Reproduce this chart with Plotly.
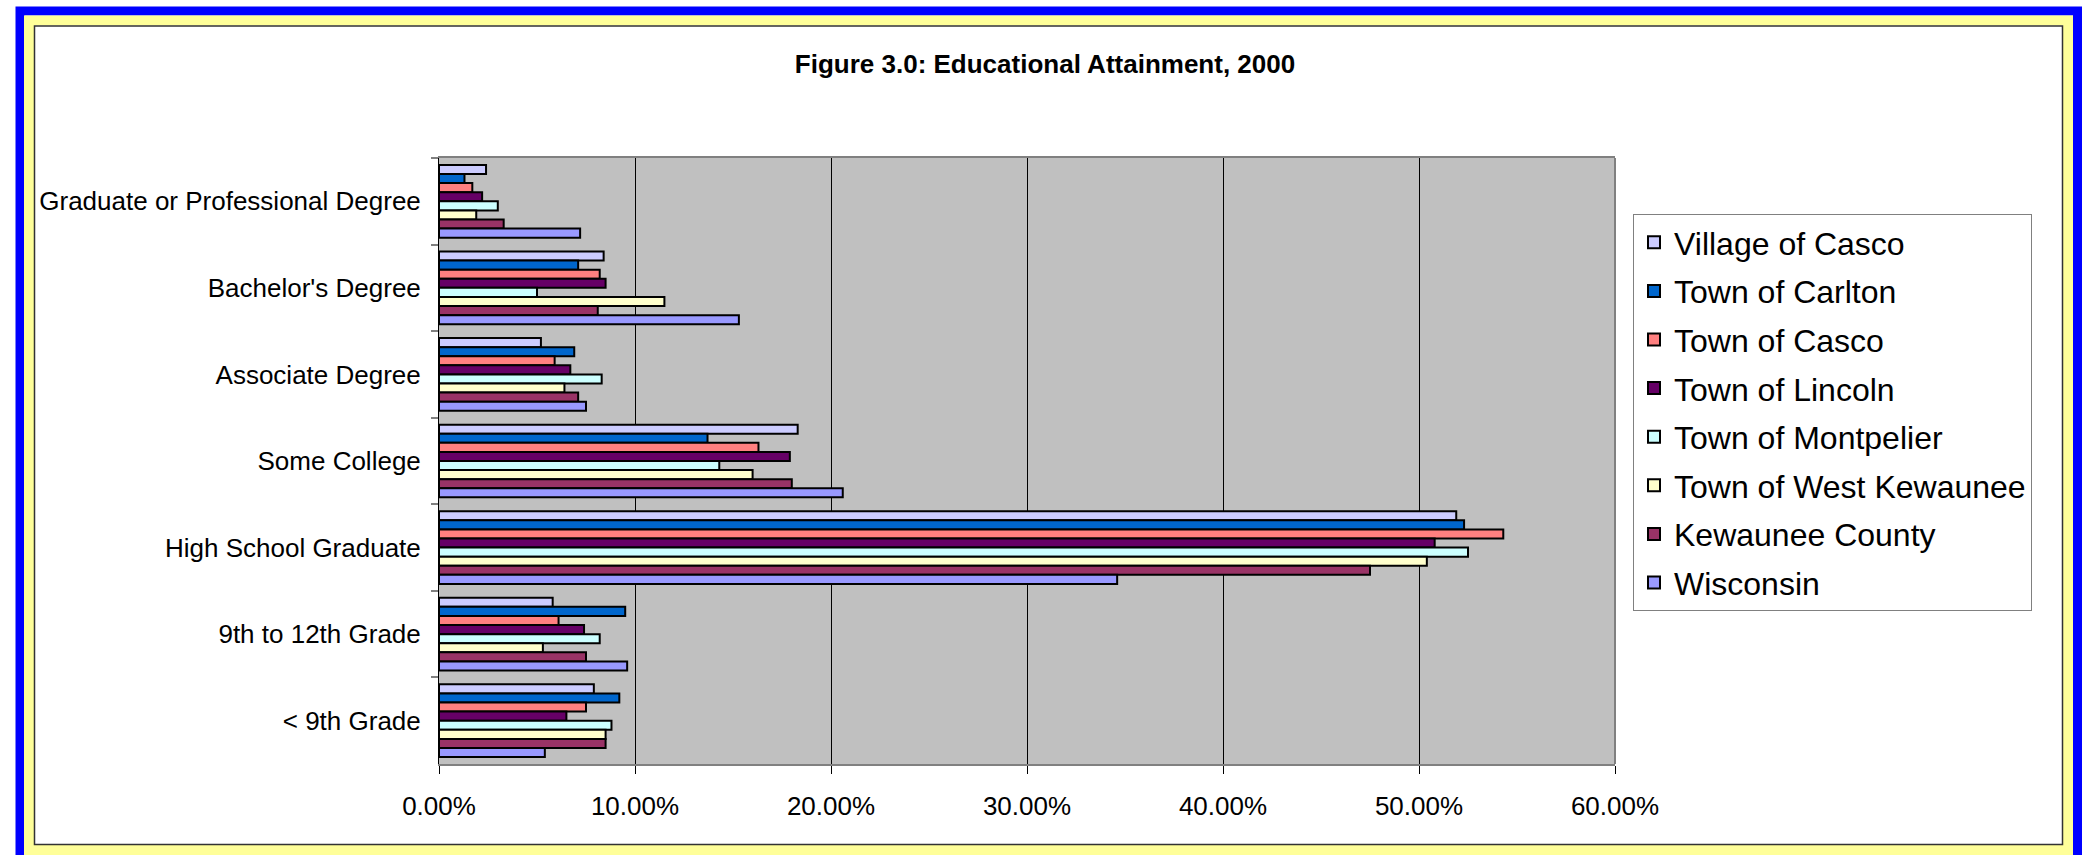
import plotly.graph_objects as go

# ---- data (percent) ----
categories = ["Graduate or Professional Degree", "Bachelor's Degree", "Associate Degree",
              "Some College", "High School Graduate", "9th to 12th Grade", "< 9th Grade"]
village_of_casco = [2.4, 8.4, 5.2, 18.3, 51.9, 5.8, 7.9]
town_of_carlton = [1.3, 7.1, 6.9, 13.7, 52.3, 9.5, 9.2]
town_of_casco = [1.7, 8.2, 5.9, 16.3, 54.3, 6.1, 7.5]
town_of_lincoln = [2.2, 8.5, 6.7, 17.9, 50.8, 7.4, 6.5]
town_of_montpelier = [3.0, 5.0, 8.3, 14.3, 52.5, 8.2, 8.8]
town_of_west_kewaunee = [1.9, 11.5, 6.4, 16.0, 50.4, 5.3, 8.5]
kewaunee_county = [3.3, 8.1, 7.1, 18.0, 47.5, 7.5, 8.5]
wisconsin = [7.2, 15.3, 7.5, 20.6, 34.6, 9.6, 5.4]

series_names = ["Village of Casco", "Town of Carlton", "Town of Casco", "Town of Lincoln",
                "Town of Montpelier", "Town of West Kewaunee", "Kewaunee County", "Wisconsin"]
series_values = [village_of_casco, town_of_carlton, town_of_casco, town_of_lincoln,
                 town_of_montpelier, town_of_west_kewaunee, kewaunee_county, wisconsin]
colors = ["#CCCCFF", "#0066CC", "#FF8080", "#660066", "#CCFFFF", "#FFFFCC", "#993366", "#9999FF"]

W, H = 2090, 855
ML, MR, MT, MB = 439, W - 1615, 158, H - 764
PW, PH = W - ML - MR, H - MT - MB
FONT = "Liberation Sans, Arial, sans-serif"


def px(x):
    return (x - ML) / PW


def py(y):
    return (H - MB - y) / PH


fig = go.Figure()
for name, vals, col in zip(series_names, series_values, colors):
    fig.add_trace(go.Bar(
        y=categories, x=[v / 100 for v in vals], name=name, orientation="h",
        marker=dict(color=col, line=dict(color="black", width=2)),
        legendgroup=name,
    ))

shapes = [
    # blue outer frame
    dict(type="rect", xref="paper", yref="paper", x0=px(20), x1=px(2077.5), y0=py(900), y1=py(11),
         line=dict(color="#0000FF", width=9), fillcolor="rgba(0,0,0,0)", layer="below"),
    # yellow frame
    dict(type="rect", xref="paper", yref="paper", x0=px(29), x1=px(2068), y0=py(850), y1=py(20.5),
         line=dict(color="#FFFF99", width=10), fillcolor="rgba(0,0,0,0)", layer="below"),
    # inner black border
    dict(type="rect", xref="paper", yref="paper", x0=px(34.5), x1=px(2062.5), y0=py(844.5), y1=py(26),
         line=dict(color="#333333", width=1.5), fillcolor="rgba(0,0,0,0)", layer="below"),
    # right plot border (gray)
    dict(type="line", xref="paper", yref="paper", x0=1, x1=1, y0=0, y1=1,
         line=dict(color="#808080", width=2), layer="above"),
]

fig.update_layout(
    width=W, height=H,
    margin=dict(l=ML, r=MR, t=MT, b=MB),
    paper_bgcolor="white",
    plot_bgcolor="#C0C0C0",
    barmode="group",
    bargap=0.16,
    bargroupgap=0,
    font=dict(family=FONT, color="black"),
    title=dict(text="<b>Figure 3.0: Educational Attainment, 2000</b>", x=0.5, xanchor="center",
               y=1 - 64 / H, yanchor="middle", font=dict(size=26, family=FONT, color="black")),
    legend=dict(x=px(1633), y=py(214), xanchor="left", yanchor="top",
                bgcolor="white", bordercolor="#808080", borderwidth=1,
                font=dict(size=32, family=FONT, color="black"),
                traceorder="grouped", tracegroupgap=4),
    shapes=shapes,
)

fig.update_xaxes(range=[0, 0.6], dtick=0.1, tick0=0, tickformat=".2%",
                 showgrid=True, gridcolor="black", gridwidth=1,
                 showline=True, linecolor="#808080", linewidth=2, mirror=True,
                 ticks="outside", ticklen=8, tickcolor="black", tickwidth=1,
                 tickfont=dict(size=26, family=FONT, color="black"),
                 ticklabelstandoff=10, zeroline=False, fixedrange=True)
fig.update_yaxes(autorange="reversed", showline=True, linecolor="black", linewidth=1,
                 ticks="outside", tickson="boundaries", ticklen=7, tickcolor="#808080", tickwidth=2,
                 tickfont=dict(size=26, family=FONT, color="black"),
                 ticklabelstandoff=12, showgrid=False, fixedrange=True)

fig.write_html("out.html")
